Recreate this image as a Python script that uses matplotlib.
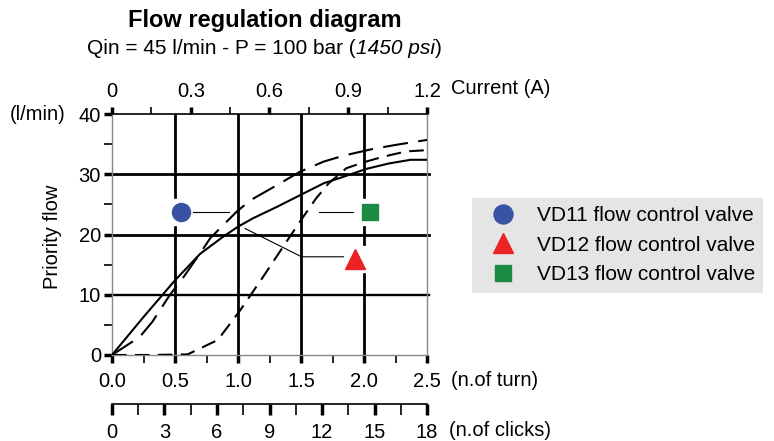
import matplotlib
matplotlib.use("Agg")
import matplotlib.pyplot as plt
from matplotlib.lines import Line2D
from matplotlib.ticker import MultipleLocator

plt.rcParams["font.family"] = ["Liberation Sans", "DejaVu Sans"]

# Curves: turns of the knob vs priority flow (l/min)
turns_solid = [0, 0.25, 0.5, 0.7, 0.88, 1.0, 1.12, 1.31, 1.5, 1.68, 1.84, 2.02, 2.2, 2.37, 2.5]
flow_solid = [0, 6.3, 12.4, 16.8, 19.6, 21.3, 22.7, 24.6, 26.6, 28.5, 29.6, 30.9, 31.8, 32.4, 32.4]

turns_long = [0, 0.22, 0.32, 0.46, 0.55, 0.7, 0.78, 0.99, 1.1, 1.31, 1.49, 1.68, 1.84, 2.07, 2.26, 2.5]
flow_long = [0, 3.0, 5.5, 10.0, 12.4, 16.9, 19.4, 23.8, 25.7, 28.2, 30.4, 32.1, 33.1, 34.2, 34.9, 35.7]

turns_short = [0, 0.3, 0.6, 0.84, 1.02, 1.2, 1.41, 1.52, 1.62, 1.72, 1.86, 2.0, 2.1, 2.21, 2.34, 2.5]
flow_short = [0, 0, 0.1, 2.5, 7.5, 13.0, 19.6, 23.0, 26.0, 28.5, 31.0, 32.0, 32.6, 33.2, 33.8, 34.0]

# Valve markers and their leader lines
valve_labels = ["VD11 flow control valve", "VD12 flow control valve", "VD13 flow control valve"]
valve_markers = ["o", "^", "s"]
valve_colors = ["#3953a4", "#ed2224", "#1b8a43"]
valve_sizes = [13, 14, 11]
valve_x = [0.545, 1.925, 2.05]
valve_y = [23.7, 16.0, 23.7]
leader_x = [[0.64, 0.93], [1.836, 1.505, 1.056], [1.645, 1.915]]
leader_y = [[23.7, 23.7], [16.3, 16.3, 21.0], [23.7, 23.7]]

FS = 14.5

fig = plt.figure(figsize=(7.74, 4.41), dpi=100)
ax = fig.add_axes([112 / 774, 86 / 441, 315 / 774, 241 / 441])

ax.set_xlim(0, 2.5)
ax.set_ylim(0, 40)

# heavy grid
for gx in [0.5, 1.0, 1.5, 2.0]:
    ax.axvline(gx, color="black", lw=2.0, zorder=1)
for gy, w in [(10, 1.7), (20, 2.0), (30, 2.0)]:
    ax.axhline(gy, color="black", lw=w, zorder=1, clip_on=False, xmax=1.005)

# white patches breaking the grid behind the markers
ax.plot(valve_x, valve_y, "s", color="white", markersize=19, zorder=2)

ax.plot(turns_solid, flow_solid, color="black", lw=1.5, zorder=3)
ax.plot(turns_long, flow_long, color="black", lw=1.5, linestyle=(0, (12, 5)), zorder=3)
ax.plot(turns_short, flow_short, color="black", lw=1.5, linestyle=(0, (7, 4)), zorder=3)

for lx, ly in zip(leader_x, leader_y):
    ax.plot(lx, ly, color="black", lw=0.8, zorder=3)
for vx, vy, m, c, s in zip(valve_x, valve_y, valve_markers, valve_colors, valve_sizes):
    ax.plot(vx, vy, marker=m, color=c, markersize=s, linestyle="none", zorder=4)

for side in ["left", "right", "bottom"]:
    ax.spines[side].set_color("#888888")
    ax.spines[side].set_linewidth(1.0)
ax.spines["top"].set_linewidth(1.2)

ax.xaxis.set_major_locator(MultipleLocator(0.5))
ax.xaxis.set_minor_locator(MultipleLocator(0.25))
ax.yaxis.set_major_locator(MultipleLocator(10))
ax.yaxis.set_minor_locator(MultipleLocator(5))
ax.xaxis.set_major_formatter(lambda v, p: f"{v:.1f}")
ax.tick_params(axis="both", which="major", length=6, width=2.5, color="black", labelsize=FS)
ax.tick_params(axis="both", which="minor", length=6, width=1.2, color="black")
ax.tick_params(axis="x", pad=6)
ax.tick_params(axis="y", pad=2)

# top axis: current
top = ax.secondary_xaxis("top", functions=(lambda t: t * 0.48, lambda a: a / 0.48))
top.xaxis.set_major_locator(MultipleLocator(0.3))
top.xaxis.set_minor_locator(MultipleLocator(0.15))
top.xaxis.set_major_formatter(lambda v, p: "0" if abs(v) < 1e-9 else f"{v:.1f}")
top.tick_params(which="major", length=5, width=2.5, labelsize=FS, pad=4)
top.tick_params(which="minor", length=5, width=1.2)
top.spines["top"].set_visible(False)

# lower axis: clicks
clk = ax.secondary_xaxis(-0.203, functions=(lambda t: t * 7.2, lambda c: c / 7.2))
clk.xaxis.set_major_locator(MultipleLocator(3))
clk.xaxis.set_minor_locator(MultipleLocator(1.5))
clk.tick_params(which="major", length=8, width=2.5, labelsize=FS, pad=6)
clk.tick_params(which="minor", length=8, width=1.2)
clk.spines["bottom"].set_linewidth(1.2)

fig.text(451 / 774, 1 - 88 / 441, "Current (A)", fontsize=FS, va="center", ha="left")
fig.text(451 / 774, 1 - 381 / 441, "(n.of turn)", fontsize=FS, va="center", ha="left")
fig.text(449 / 774, 1 - 431 / 441, "(n.of clicks)", fontsize=FS, va="center", ha="left")
fig.text(10 / 774, 1 - 115 / 441, "(l/min)", fontsize=FS, va="center", ha="left")
fig.text(52 / 774, 1 - 237 / 441, "Priority flow", fontsize=FS, va="center", ha="center",
         rotation=90)

fig.text(265 / 774, 1 - 20 / 441, "Flow regulation diagram", fontsize=17, fontweight="bold",
         ha="center", va="center")
t1 = fig.text(87 / 774, 1 - 48 / 441, "Qin = 45 l/min - P = 100 bar (", fontsize=15,
              ha="left", va="center")
t2 = plt.annotate("1450 psi", xy=(1, 0), xycoords=t1, va="bottom", ha="left",
                  fontsize=15, fontstyle="italic")
plt.annotate(")", xy=(1, 0), xycoords=t2, va="bottom", ha="left", fontsize=15)

handles = [Line2D([], [], marker=m, color=c, markersize=s * 1.05, linestyle="none")
           for m, c, s in zip(valve_markers, valve_colors, valve_sizes)]
fig.legend(handles, valve_labels, loc="upper left", bbox_to_anchor=(472 / 774, 1 - 198 / 441),
           frameon=True, facecolor="#e5e5e5", edgecolor="none", fancybox=False, framealpha=1,
           fontsize=15, labelspacing=0.5, handletextpad=0.5, handlelength=2.2,
           borderpad=0.4, borderaxespad=0)

fig.savefig("out.png", dpi=100)
